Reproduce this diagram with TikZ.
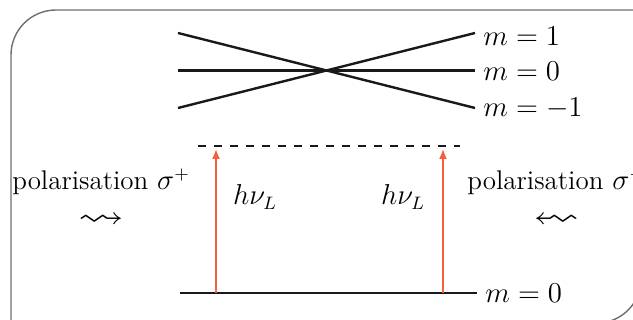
\documentclass[tikz,border=0pt]{standalone}
\usepackage{amsmath,amssymb}
\usepackage{graphicx}
\usetikzlibrary{positioning, arrows.meta, calc}
\definecolor{laserRed}{HTML}{F2603F}
\definecolor{frameGray}{HTML}{6E6E6E}

\begin{document}
\begin{tikzpicture}[x=0.5pt, y=0.5pt,
  level/.style={line width=1.2pt, black!90},
  laser/.style={-{Latex[length=5pt,width=4pt]}, line width=0.8pt, laserRed},
  lbl/.style={font=\fontsize{13.5}{16}\selectfont, inner sep=1pt},
  wave/.style={font=\fontsize{13.5}{16}\selectfont, inner sep=0pt}
]
\useasboundingbox (0,0) rectangle (633,320);
% frame
\draw[frameGray, line width=0.7pt] (11,-4) -- (11,265) arc (180:90:45)
  -- (641,310) -- (641,41) arc (0:-90:44) -- cycle;

% Zeeman split upper levels
\coordinate (upL) at (178,287);
\coordinate (midL) at (178,249.5);
\coordinate (lowL) at (178,212);
\coordinate (upR) at (475,287);
\coordinate (midR) at (475,249.5);
\coordinate (lowR) at (475,212);
\node[lbl, anchor=west] (mOne) at ($(upR)+(6,-3)$) {$m=1$};
\node[lbl, anchor=west] (mZero) at ($(midR)+(6,-1)$) {$m=0$};
\node[lbl, anchor=west] (mMinus) at ($(lowR)+(6,0)$) {$m=-1$};
\draw[level] (upL) -- (lowR);
\draw[level] (midL) -- (midR);
\draw[level] (lowL) -- (upR);

% virtual level
\coordinate (exL) at (198,174);
\coordinate (exR) at (460,174);
\draw[level, dash pattern=on 4pt off 4pt] (exL) -- (exR);

% ground level
\coordinate (gL) at (180,27);
\coordinate (gR) at (477,27);
\draw[level] (gL) -- (gR);
\node[lbl, anchor=west] (mGround) at ($(gR)+(6,0)$) {$m=0$};

% laser photons
\coordinate (gA) at (216,27);
\coordinate (eA) at (216,171);
\coordinate (gB) at (443,27);
\coordinate (eB) at (443,171);
\draw[laser] (gA) -- (eA);
\draw[laser] (gB) -- (eB);
\node[lbl] (hvA) at (255,123) {$h\nu_L$};
\node[lbl] (hvB) at (403,123) {$h\nu_L$};

% polarisations
\node[lbl] (polA) at (101,138) {polarisation $\sigma^+$};
\node[wave, below=8pt of polA] (wavA) {\scalebox{1.7}[1.3]{$\rightsquigarrow$}};
\node[lbl, anchor=west] (polB) at (465,138) {polarisation $\sigma^-$};
\node[wave, below=8pt of polB] (wavB) {\scalebox{-1.7}[1.3]{$\rightsquigarrow$}};
\end{tikzpicture}
\end{document}
